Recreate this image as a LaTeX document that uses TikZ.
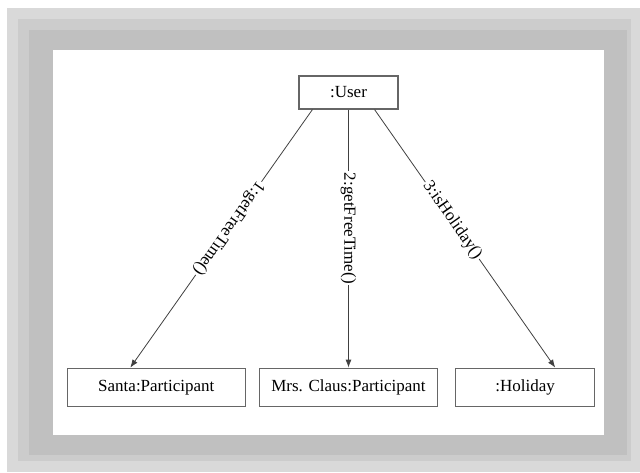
\documentclass[tikz,border=0pt]{standalone}
\usepackage{fontspec}
\setmainfont{Liberation Serif}
\usepackage{tikz}
\usetikzlibrary{arrows.meta,positioning}
\definecolor{frameout}{HTML}{D9D9D9}
\definecolor{framemid}{HTML}{CCCCCC}
\definecolor{framein}{HTML}{C0C0C0}

\begin{document}
\begin{tikzpicture}[x=1pt, y=-1pt,
  obj/.style={draw=black!60, line width=1.2pt, fill=white, align=center,
              minimum height=38pt, inner sep=2pt,
              font=\fontsize{17}{20}\selectfont},
  lab/.style={font=\fontsize{17}{20}\selectfont, fill=white, inner sep=1.5pt,
              sloped, allow upside down, pos=0.46},
  arr/.style={-{Latex[length=8pt,width=6pt]}, draw=black!75, line width=0.8pt}]
\useasboundingbox (0,0) rectangle (640,472);
\fill[white] (0,0) rectangle (640,472);
\fill[frameout] (7,8) rectangle (640,472);
\fill[framemid] (18,19) rectangle (631,461);
\fill[framein] (29,30) rectangle (627,455);
\fill[white] (53,50) rectangle (604,435);
\node[obj, minimum width=99pt, minimum height=33pt] (user) at (348.5,92.5) {:User};
\node[obj, minimum width=178pt, below=258pt of user] (claus) {Mrs. Claus:Participant};
\node[obj, minimum width=178pt, left=13pt of claus] (santa) {Santa:Participant};
\node[obj, minimum width=139pt, right=17pt of claus] (holiday) {:Holiday};
\draw[arr] ([xshift=14pt]user.south west) -- ([xshift=-26pt]santa.north)
  node[lab]{1:getFreeTime()};
\draw[arr] (user) -- (claus) node[lab]{2:getFreeTime()};
\draw[arr] ([xshift=-24pt]user.south east) -- ([xshift=30pt]holiday.north)
  node[lab, pos=0.43]{3:isHoliday()};
\end{tikzpicture}
\end{document}
